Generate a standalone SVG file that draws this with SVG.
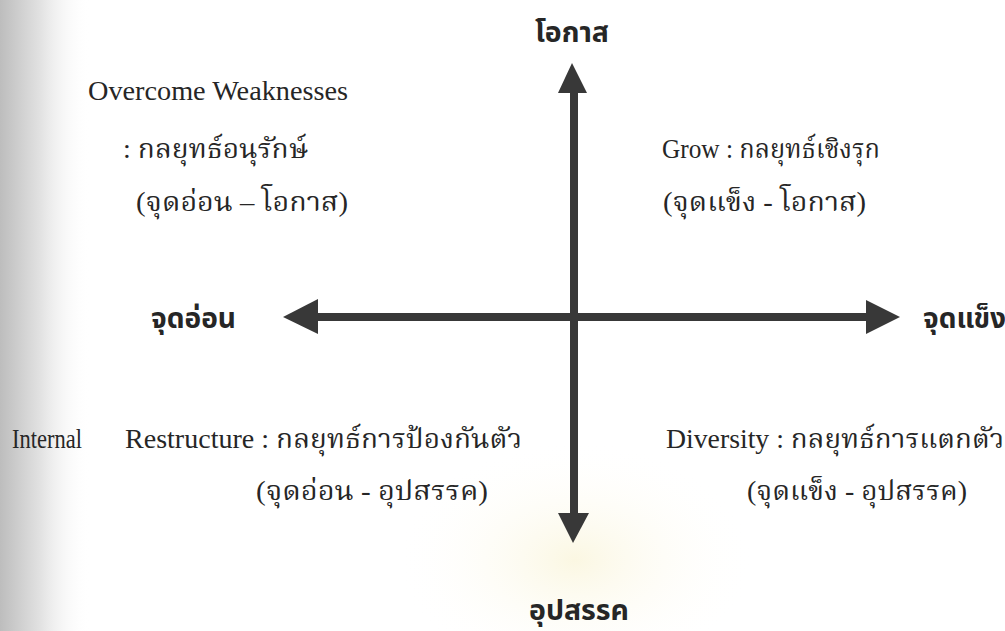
<svg xmlns="http://www.w3.org/2000/svg" width="1005" height="631" viewBox="0 0 1005 631">
  <defs>
    <linearGradient id="edge" x1="0" y1="0" x2="1" y2="0">
      <stop offset="0" stop-color="#bdbdbd"/>
      <stop offset="0.45" stop-color="#e2e2e2"/>
      <stop offset="1" stop-color="#ffffff" stop-opacity="0"/>
    </linearGradient>
    <radialGradient id="glow" cx="0.5" cy="0.5" r="0.5">
      <stop offset="0" stop-color="#fbf7e2"/>
      <stop offset="1" stop-color="#ffffff" stop-opacity="0"/>
    </radialGradient>
    <style>
      .t { font-family: "Liberation Serif", "Noto Serif Thai", "Noto Sans Thai", serif; fill: #262626; font-size: 27px; }
      .e { font-family: "Liberation Serif", "Times New Roman", serif; fill: #262626; font-size: 28px; }
      .b { font-family: "Liberation Sans", "Noto Sans Thai", sans-serif; font-weight: bold; fill: #262626; font-size: 28px; }
      .axis { stroke: #383838; stroke-width: 8; fill: none; }
      .head { fill: #383838; }
    </style>
  </defs>
  <rect width="1005" height="631" fill="#ffffff"/>
  <rect x="0" y="0" width="90" height="631" fill="url(#edge)"/>
  <ellipse cx="575" cy="560" rx="180" ry="120" fill="url(#glow)"/>

  <g id="connectors">
    <line class="axis" x1="574" y1="90" x2="574" y2="515"/>
    <polygon class="head" points="572,63 587,93 558,93"/>
    <polygon class="head" points="573,543 589,513 558,513"/>
    <line class="axis" x1="314" y1="317" x2="868" y2="317"/>
    <polygon class="head" points="283,317 318,299 318,334"/>
    <polygon class="head" points="900,317 866,300 866,334"/>
  </g>

  <g id="top-label"><text class="b" x="535" y="42" textLength="74" lengthAdjust="spacingAndGlyphs">โอกาส</text></g>
  <g id="bottom-label"><text class="b" x="529" y="620" textLength="100" lengthAdjust="spacingAndGlyphs">อุปสรรค</text></g>
  <g id="left-label"><text class="b" x="151" y="328" textLength="85" lengthAdjust="spacingAndGlyphs">จุดอ่อน</text></g>
  <g id="right-label"><text class="b" x="923" y="328">จุดแข็ง</text></g>

  <g id="q-top-left">
    <text class="e" x="88" y="100" textLength="260" lengthAdjust="spacingAndGlyphs">Overcome Weaknesses</text>
    <text class="t" x="123" y="158" textLength="185" lengthAdjust="spacingAndGlyphs">: กลยุทธ์อนุรักษ์</text>
    <text class="t" x="136" y="211" textLength="212" lengthAdjust="spacingAndGlyphs">(จุดอ่อน – โอกาส)</text>
  </g>
  <g id="q-top-right">
    <text class="t" x="662" y="158" textLength="218" lengthAdjust="spacingAndGlyphs">Grow : กลยุทธ์เชิงรุก</text>
    <text class="t" x="663" y="211" textLength="203" lengthAdjust="spacingAndGlyphs">(จุดแข็ง - โอกาส)</text>
  </g>
  <g id="internal"><text class="e" x="12" y="448" textLength="70" lengthAdjust="spacingAndGlyphs">Internal</text></g>
  <g id="q-bottom-left">
    <text class="t" x="125" y="448" textLength="397" lengthAdjust="spacingAndGlyphs">Restructure : กลยุทธ์การป้องกันตัว</text>
    <text class="t" x="256" y="500" textLength="232" lengthAdjust="spacingAndGlyphs">(จุดอ่อน - อุปสรรค)</text>
  </g>
  <g id="q-bottom-right">
    <text class="t" x="666" y="448" textLength="338" lengthAdjust="spacingAndGlyphs">Diversity : กลยุทธ์การแตกตัว</text>
    <text class="t" x="747" y="500" textLength="220" lengthAdjust="spacingAndGlyphs">(จุดแข็ง - อุปสรรค)</text>
  </g>
</svg>
